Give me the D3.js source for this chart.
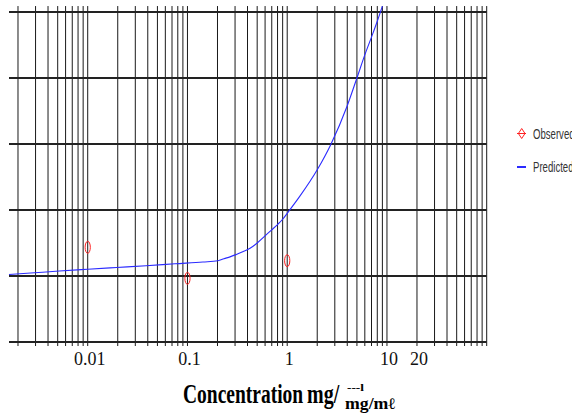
<!DOCTYPE html>
<html>
<head>
<meta charset="utf-8">
<script src="https://cdn.jsdelivr.net/npm/d3@7"></script>
<style>
  html, body { margin: 0; padding: 0; background: #fff; }
  svg { display: block; }
</style>
</head>
<body>
<svg id="chart" width="572" height="416"></svg>
<script>
// ---- data ----
const tickLabels = ["0.01", "0.1", "1", "10", "20"];
const tickValues = [0.01, 0.1, 1, 10, 20];
const yGridValues = [0, 1, 2, 3, 4, 5];

const obsConc = [0.01, 0.1, 1];
const obsVal  = [1.435, 0.965, 1.232];

const predConc = [0.001625, 0.00268, 0.00519, 0.0100, 0.0195, 0.0384, 0.0750, 0.143, 0.202, 0.232, 0.267, 0.312, 0.363, 0.424, 0.5, 0.622, 0.7, 0.8, 0.9, 1.0, 1.34, 2.0, 2.73, 4.0, 5.0, 6.0, 7.0, 8.0, 9.0];
const predVal  = [1.023, 1.045, 1.076, 1.103, 1.129, 1.155, 1.185, 1.212, 1.230, 1.262, 1.290, 1.329, 1.370, 1.42, 1.50, 1.63, 1.70, 1.78, 1.86, 1.95, 2.21, 2.61, 2.99, 3.58, 4.0, 4.35, 4.62, 4.86, 5.09];

const seriesNames = ["Observed", "Predicted"];

// ---- scales ----
const svg = d3.select("#chart");
const x = d3.scaleLog().domain([0.001625, 100]).range([9, 486.7]);
const y = d3.scaleLinear().domain([0, 5]).range([342, 12]);
const yTop = y(5.09);
const yBottomTick = 346;

// vertical grid lines (log minor grid)
const vGrid = x.ticks().filter(v => x(v) >= x.range()[0] + 1);
svg.append("g").selectAll("line").data(vGrid).join("line")
  .attr("x1", d => x(d)).attr("x2", d => x(d))
  .attr("y1", yTop).attr("y2", yBottomTick)
  .attr("stroke", "#1a1a1a").attr("stroke-width", 1);

// horizontal grid lines
svg.append("g").selectAll("line").data(yGridValues).join("line")
  .attr("x1", x.range()[0]).attr("x2", x.range()[1])
  .attr("y1", d => y(d)).attr("y2", d => y(d))
  .attr("stroke", "#222").attr("stroke-width", 2);

// x tick labels
svg.append("g").selectAll("text").data(tickValues).join("text")
  .attr("x", d => x(d) + 2).attr("y", 365)
  .attr("text-anchor", "middle")
  .attr("font-family", "'Liberation Serif', 'Times New Roman', serif")
  .attr("font-size", 18)
  .attr("fill", "#111")
  .text((d, i) => tickLabels[i]);

// predicted line
const line = d3.line()
  .x(d => x(d[0])).y(d => y(d[1]))
  .curve(d3.curveMonotoneX);
svg.append("path")
  .datum(predConc.map((c, i) => [c, predVal[i]]))
  .attr("d", line)
  .attr("fill", "none")
  .attr("stroke", "#2b2bff")
  .attr("stroke-width", 1.1);

// observed markers
svg.append("g").selectAll("ellipse").data(obsConc.map((c, i) => [c, obsVal[i]])).join("ellipse")
  .attr("cx", d => x(d[0])).attr("cy", d => y(d[1]))
  .attr("rx", 2.6).attr("ry", 6)
  .attr("fill", "none").attr("stroke", "#ff2020").attr("stroke-width", 1);

// legend
const lg = svg.append("g");
lg.append("line").attr("x1", 517).attr("x2", 526).attr("y1", 133.5).attr("y2", 133.5)
  .attr("stroke", "#ff2020").attr("stroke-width", 1);
lg.append("path").attr("d", "M521.7,128.5 L525,133.5 L521.7,138.5 L518.4,133.5 Z")
  .attr("fill", "none").attr("stroke", "#ff2020").attr("stroke-width", 1);
lg.append("line").attr("x1", 517).attr("x2", 526).attr("y1", 167).attr("y2", 167)
  .attr("stroke", "#2b2bff").attr("stroke-width", 2);
const legendY = [138.5, 172];
seriesNames.forEach((name, i) => {
  lg.append("g").attr("transform", `translate(533,${legendY[i]}) scale(0.64,1)`)
    .append("text")
    .attr("font-family", "'Liberation Sans', Arial, sans-serif")
    .attr("font-size", 15)
    .attr("fill", "#333")
    .text(name);
});

// x axis title
const tg = svg.append("g").attr("transform", "translate(183,403) scale(1,1.35)");
tg.append("text")
  .attr("font-family", "'Liberation Serif', 'Times New Roman', serif")
  .attr("font-weight", "bold").attr("font-size", 19.5).attr("fill", "#000")
  .text("Concentration");
tg.append("text").attr("x", 124)
  .attr("font-family", "'Liberation Serif', 'Times New Roman', serif")
  .attr("font-weight", "bold").attr("font-size", 20).attr("fill", "#000")
  .text("mg/");
svg.append("text").attr("x", 345).attr("y", 408.5)
  .attr("font-family", "'Liberation Serif', 'Times New Roman', serif")
  .attr("font-weight", "bold").attr("font-size", 16).attr("fill", "#000")
  .attr("textLength", 50).attr("lengthAdjust", "spacingAndGlyphs")
  .text("mg/mℓ");
svg.append("text").attr("x", 347).attr("y", 391)
  .attr("font-family", "'Liberation Serif', 'Times New Roman', serif")
  .attr("font-weight", "bold").attr("font-size", 10).attr("fill", "#000")
  .attr("textLength", 17).attr("lengthAdjust", "spacingAndGlyphs")
  .text("---l");
</script>
</body>
</html>
